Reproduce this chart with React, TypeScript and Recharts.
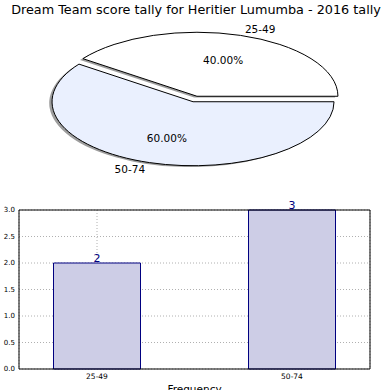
import React, { FC } from "react";
import {
	PieChart,
	Pie,
	Cell,
	BarChart,
	Bar,
	XAxis,
	YAxis,
	CartesianGrid,
	LabelList,
	Label,
	ReferenceLine
} from "recharts";

const title = "Dream Team score tally for Heritier Lumumba - 2016 tally";
const categories = ["25-49", "50-74"];
const counts = [2, 3];
const yTicks = [0, 0.5, 1.0, 1.5, 2.0, 2.5, 3.0];
const pieColors = ["#ffffff", "#eaf0fe"];

const pieData = categories.map((name, i) => ({ name, value: counts[i] }));
const barData = categories.map((name, i) => ({ pos: i, name, count: counts[i] }));

// matplotlib drew the pie without equal aspect, so it's squashed into an ellipse
const RAD = Math.PI / 180;
const Y_SCALE = 64 / 141;
const EXPLODE = 0.045;
const FONT = "'DejaVu Sans', sans-serif";

const ellipsePoint = (cx: number, cy: number, r: number, angle: number) => [
	cx + r * Math.cos(-angle * RAD),
	cy + r * Y_SCALE * Math.sin(-angle * RAD)
];

const wedgePath = (cx: number, cy: number, r: number, start: number, end: number) => {
	const [x0, y0] = ellipsePoint(cx, cy, r, start);
	const [x1, y1] = ellipsePoint(cx, cy, r, end);
	const large = Math.abs(end - start) > 180 ? 1 : 0;
	const sweep = end > start ? 0 : 1;
	return `M${cx},${cy} L${x0},${y0} A${r},${r * Y_SCALE} 0 ${large} ${sweep} ${x1},${y1} Z`;
};

const WedgeShape = (props: any) => {
	const { cx, cy, outerRadius, startAngle, endAngle, midAngle, fill } = props;
	const [ex, ey] = ellipsePoint(cx, cy, EXPLODE * outerRadius, midAngle);
	return (
		<path
			d={wedgePath(ex, ey, outerRadius, startAngle, endAngle)}
			fill={fill}
			stroke="#000"
			strokeWidth={1}
		/>
	);
};

const ShadowShape = (props: any) => {
	const { cx, cy, outerRadius, startAngle, endAngle, midAngle } = props;
	const [ex, ey] = ellipsePoint(cx, cy, EXPLODE * outerRadius, midAngle);
	return (
		<path
			d={wedgePath(ex - 0.02 * outerRadius, ey + 0.02 * outerRadius * Y_SCALE, outerRadius, startAngle, endAngle)}
			fill="#4d4d4d"
			fillOpacity={0.55}
			stroke="none"
		/>
	);
};

const renderPieLabel = (props: any) => {
	const { cx, cy, midAngle, outerRadius, percent, name } = props;
	const [ex, ey] = ellipsePoint(cx, cy, EXPLODE * outerRadius, midAngle);
	const [lx, ly] = ellipsePoint(ex, ey, 1.1 * outerRadius, midAngle);
	const [px, py] = ellipsePoint(ex, ey, 0.6 * outerRadius, midAngle);
	return (
		<g>
			<text x={lx} y={ly} textAnchor={lx > ex ? "start" : "end"} dominantBaseline="central" fontSize={10.5} fill="#000">
				{name}
			</text>
			<text x={px} y={py} textAnchor="middle" dominantBaseline="central" fontSize={10.5} fill="#000">
				{(percent * 100).toFixed(2)}%
			</text>
		</g>
	);
};

const App: FC = () => {
	return (
		<div
			style={{
				position: "absolute",
				left: 0,
				top: 0,
				width: 390,
				height: 390,
				overflow: "hidden",
				background: "#fff",
				fontFamily: FONT
			}}
		>
			<div style={{ position: "absolute", left: 0, top: 0 }}>
				<PieChart width={390} height={185} margin={{ top: 0, right: 0, bottom: 0, left: 0 }}>
					<Pie
						data={pieData}
						dataKey="value"
						nameKey="name"
						cx={195}
						cy={99}
						outerRadius={141}
						startAngle={0}
						endAngle={360}
						shape={ShadowShape}
						label={false}
						labelLine={false}
						isAnimationActive={false}
					/>
					<Pie
						data={pieData}
						dataKey="value"
						nameKey="name"
						cx={195}
						cy={99}
						outerRadius={141}
						startAngle={0}
						endAngle={360}
						shape={WedgeShape}
						label={renderPieLabel}
						labelLine={false}
						isAnimationActive={false}
					>
						{pieData.map((d, i) => (
							<Cell key={d.name} fill={pieColors[i]} />
						))}
					</Pie>
				</PieChart>
			</div>
			<div
				style={{
					position: "absolute",
					left: 0,
					top: 2,
					width: 392,
					textAlign: "center",
					fontSize: 12.8,
					lineHeight: "16px",
					color: "#000"
				}}
			>
				{title}
			</div>
			<div style={{ position: "absolute", left: 0, top: 185 }}>
				<BarChart width={390} height={210} data={barData} margin={{ top: 25, right: 20, bottom: 0, left: 0 }}>
					<CartesianGrid stroke="#b0b0b0" strokeDasharray="1 2" />
					<XAxis
						type="number"
						dataKey="pos"
						domain={[-0.4, 1.4]}
						ticks={[0, 1]}
						interval={0}
						tickFormatter={(v: number) => categories[v]}
						axisLine={{ stroke: "#000" }}
						tickLine={false}
						tickSize={0}
						tickMargin={5}
						height={26}
						tick={{ fontSize: 7.5, fill: "#000" }}
					>
						<Label value="Frequency" position="insideBottom" offset={2} fontSize={10.5} fill="#000" />
					</XAxis>
					<YAxis
						type="number"
						domain={[0, 3]}
						ticks={yTicks}
						interval={0}
						tickFormatter={(v: number) => v.toFixed(1)}
						axisLine={{ stroke: "#000" }}
						tickLine={false}
						tickSize={0}
						tickMargin={4}
						width={19}
						tick={{ fontSize: 7, fill: "#000" }}
					/>
					<ReferenceLine y={3} stroke="#000" />
					<ReferenceLine x={1.4} stroke="#000" />
					<Bar dataKey="count" fill="#cdcde6" stroke="#000080" barSize={87} isAnimationActive={false}>
						<LabelList dataKey="count" position="top" offset={1} fill="#000080" fontSize={11} />
					</Bar>
				</BarChart>
			</div>
		</div>
	);
};

export default App;
